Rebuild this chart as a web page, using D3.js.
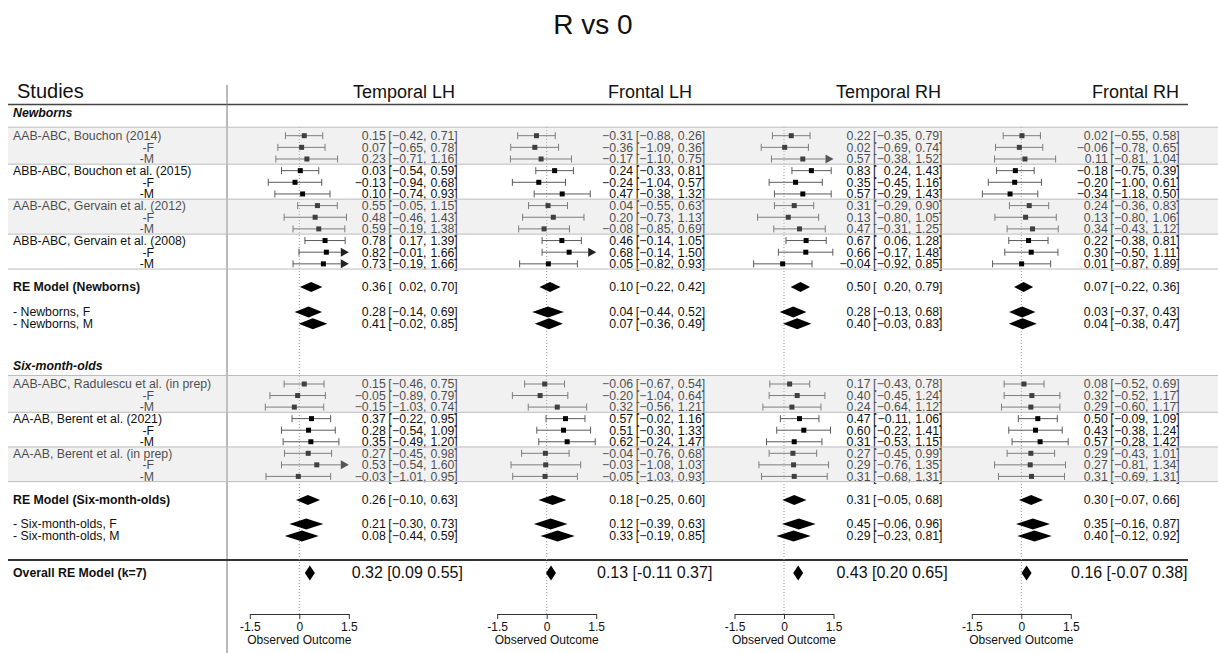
<!DOCTYPE html>
<html>
<head>
<meta charset="utf-8">
<script src="https://cdn.jsdelivr.net/npm/d3@7"></script>
<style>
  html, body { margin: 0; padding: 0; background: #fff; }
  svg { display: block; }
</style>
</head>
<body>
<svg id="chart" width="1218" height="653"></svg>
<script>
// ---- data -------------------------------------------------------------
const chartTitle = "R vs 0";
const regions = ["Temporal LH", "Frontal LH", "Temporal RH", "Frontal RH"];

const newbornStudies = [
  "AAB-ABC, Bouchon (2014)",
  "ABB-ABC, Bouchon et al. (2015)",
  "AAB-ABC, Gervain et al. (2012)",
  "ABB-ABC, Gervain et al. (2008)"
];
const sixMonthStudies = [
  "AAB-ABC, Radulescu et al. (in prep)",
  "AA-AB, Berent et al. (2021)",
  "AA-AB, Berent et al. (in prep)"
];
// each study contributes a pooled row followed by female and male rows
const rowSuffixes = ["", "-F", "-M"];

// [estimate, lower, upper] per row, one list per region
const newbornEffects = [
  [[0.15,-0.42,0.71],[0.07,-0.65,0.78],[0.23,-0.71,1.16],
   [0.03,-0.54,0.59],[-0.13,-0.94,0.68],[0.10,-0.74,0.93],
   [0.55,-0.05,1.15],[0.48,-0.46,1.43],[0.59,-0.19,1.38],
   [0.78,0.17,1.39],[0.82,-0.01,1.66],[0.73,-0.19,1.66]],
  [[-0.31,-0.88,0.26],[-0.36,-1.09,0.36],[-0.17,-1.10,0.75],
   [0.24,-0.33,0.81],[-0.24,-1.04,0.57],[0.47,-0.38,1.32],
   [0.04,-0.55,0.63],[0.20,-0.73,1.13],[-0.08,-0.85,0.69],
   [0.46,-0.14,1.05],[0.68,-0.14,1.50],[0.05,-0.82,0.93]],
  [[0.22,-0.35,0.79],[0.02,-0.69,0.74],[0.57,-0.38,1.52],
   [0.83,0.24,1.43],[0.35,-0.45,1.16],[0.57,-0.29,1.43],
   [0.31,-0.29,0.90],[0.13,-0.80,1.05],[0.47,-0.31,1.25],
   [0.67,0.06,1.28],[0.66,-0.17,1.48],[-0.04,-0.92,0.85]],
  [[0.02,-0.55,0.58],[-0.06,-0.78,0.65],[0.11,-0.81,1.04],
   [-0.18,-0.75,0.39],[-0.20,-1.00,0.61],[-0.34,-1.18,0.50],
   [0.24,-0.36,0.83],[0.13,-0.80,1.06],[0.34,-0.43,1.12],
   [0.22,-0.38,0.81],[0.30,-0.50,1.11],[0.01,-0.87,0.89]]
];
const sixMonthEffects = [
  [[0.15,-0.46,0.75],[-0.05,-0.89,0.79],[-0.15,-1.03,0.74],
   [0.37,-0.22,0.95],[0.28,-0.54,1.09],[0.35,-0.49,1.20],
   [0.27,-0.45,0.98],[0.53,-0.54,1.60],[-0.03,-1.01,0.95]],
  [[-0.06,-0.67,0.54],[-0.20,-1.04,0.64],[0.32,-0.56,1.21],
   [0.57,-0.02,1.16],[0.51,-0.30,1.33],[0.62,-0.24,1.47],
   [-0.04,-0.76,0.68],[-0.03,-1.08,1.03],[-0.05,-1.03,0.93]],
  [[0.17,-0.43,0.78],[0.40,-0.45,1.24],[0.24,-0.64,1.12],
   [0.47,-0.11,1.06],[0.60,-0.22,1.41],[0.31,-0.53,1.15],
   [0.27,-0.45,0.99],[0.29,-0.76,1.35],[0.31,-0.68,1.31]],
  [[0.08,-0.52,0.69],[0.32,-0.52,1.17],[0.29,-0.60,1.17],
   [0.50,-0.09,1.09],[0.43,-0.38,1.24],[0.57,-0.28,1.42],
   [0.29,-0.43,1.01],[0.27,-0.81,1.34],[0.31,-0.69,1.31]]
];

// random-effects summaries per region
const newbornRE  = [[0.36,0.02,0.70],[0.10,-0.22,0.42],[0.50,0.20,0.79],[0.07,-0.22,0.36]];
const newbornF   = [[0.28,-0.14,0.69],[0.04,-0.44,0.52],[0.28,-0.13,0.68],[0.03,-0.37,0.43]];
const newbornM   = [[0.41,-0.02,0.85],[0.07,-0.36,0.49],[0.40,-0.03,0.83],[0.04,-0.38,0.47]];
const sixMonthRE = [[0.26,-0.10,0.63],[0.18,-0.25,0.60],[0.31,-0.05,0.68],[0.30,-0.07,0.66]];
const sixMonthF  = [[0.21,-0.30,0.73],[0.12,-0.39,0.63],[0.45,-0.06,0.96],[0.35,-0.16,0.87]];
const sixMonthM  = [[0.08,-0.44,0.59],[0.33,-0.19,0.85],[0.29,-0.23,0.81],[0.40,-0.12,0.92]];
const overallRE  = [[0.32,0.09,0.55],[0.13,-0.11,0.37],[0.43,0.20,0.65],[0.16,-0.07,0.38]];

const axisTicks = [-1.5, 0, 1.5];
const axisTitle = "Observed Outcome";

// ---- layout -----------------------------------------------------------
const FONT = "'Liberation Sans', Arial, Helvetica, sans-serif";
const svg = d3.select("#chart").style("font-family", FONT);

const zeroX = [299.3, 546.7, 784, 1021.3];
const halfSpan = 49.5;            // pixels from 0 to 1.5
const labelOffset = 158.5;        // right edge of the value column from x(0)
const titleRight = [455, 692, 941, 1179];
const xLimit = 1.49;

const ROW = 11.65;
const nbTop = 135.7;
const nbRowsY = d3.range(newbornStudies.length * 3).map(i => nbTop + i * ROW);
const nbHeaderY = nbTop - 23.5;
const nbREY = 287, nbFY = 312, nbMY = 323.7;
const smHeaderY = 366;
const smTop = 384;
const smRowsY = d3.range(sixMonthStudies.length * 3).map(i => smTop + i * 11.55);
const smREY = 500, smFY = 524, smMY = 536;
const overallLineY = 560, overallY = 573;
const axisY = 614;
const leftX = 8, rightX = 1188;
const labelSize = 12.3;

const fmt = v => v.toFixed(2).replace("-", "\u2212");
const fmtPlain = v => v.toFixed(2);

// ---- title & headers --------------------------------------------------
svg.append("text").attr("x", 593).attr("y", 34).attr("text-anchor", "middle")
  .attr("font-size", 28).attr("fill", "#111").text(chartTitle);

svg.append("text").attr("x", 17).attr("y", 98).attr("font-size", 20)
  .attr("fill", "#111").text("Studies");

regions.forEach((r, p) => {
  svg.append("text").attr("x", titleRight[p]).attr("y", 98)
    .attr("text-anchor", "end").attr("font-size", 18).attr("fill", "#111").text(r);
});

svg.append("line").attr("x1", leftX).attr("x2", rightX)
  .attr("y1", 104.5).attr("y2", 104.5).attr("stroke", "#444").attr("stroke-width", 1.3);

svg.append("line").attr("x1", 227).attr("x2", 227).attr("y1", 85).attr("y2", 653)
  .attr("stroke", "#777").attr("stroke-width", 1);

svg.append("line").attr("x1", leftX).attr("x2", rightX)
  .attr("y1", overallLineY).attr("y2", overallLineY).attr("stroke", "#333").attr("stroke-width", 2);

// ---- study column -----------------------------------------------------
const labelG = svg.append("g").attr("font-size", labelSize).attr("fill", "#111");

function groupHeader(text, y) {
  labelG.append("text").attr("x", 13).attr("y", y).attr("dy", "0.35em")
    .attr("font-weight", "bold").attr("font-style", "italic").text(text);
}
function studyLabels(studies, ys) {
  studies.forEach((s, i) => {
    rowSuffixes.forEach((suf, k) => {
      const y = ys[i * 3 + k];
      if (k === 0) {
        labelG.append("text").attr("x", 13).attr("y", y).attr("dy", "0.35em").text(s);
      } else {
        labelG.append("text").attr("x", 154).attr("y", y).attr("dy", "0.35em")
          .attr("text-anchor", "end").text(suf);
      }
    });
  });
}
groupHeader("Newborns", nbHeaderY);
studyLabels(newbornStudies, nbRowsY);
groupHeader("Six-month-olds", smHeaderY);
studyLabels(sixMonthStudies, smRowsY);

const summaryLabels = [
  ["RE Model (Newborns)", nbREY, true],
  ["- Newborns, F", nbFY, false],
  ["- Newborns, M", nbMY, false],
  ["RE Model (Six-month-olds)", smREY, true],
  ["- Six-month-olds, F", smFY, false],
  ["- Six-month-olds, M", smMY, false],
  ["Overall RE Model (k=7)", overallY, true]
];
summaryLabels.forEach(([t, y, bold]) => {
  labelG.append("text").attr("x", 13).attr("y", y).attr("dy", "0.35em")
    .attr("font-weight", bold ? "bold" : "normal").text(t);
});

// ---- panels -----------------------------------------------------------
function valueLabel(g, R, y, d) {
  const t = g.append("g").attr("font-size", labelSize).attr("fill", "#111");
  t.append("text").attr("x", R - 72).attr("y", y).attr("dy", "0.35em")
    .attr("text-anchor", "end").text(fmt(d[0]));
  t.append("text").attr("x", R - 69.5).attr("y", y).attr("dy", "0.35em").text("[");
  t.append("text").attr("x", R - 31.3).attr("y", y).attr("dy", "0.35em")
    .attr("text-anchor", "end").text(fmt(d[1]) + ",");
  t.append("text").attr("x", R).attr("y", y).attr("dy", "0.35em")
    .attr("text-anchor", "end").text(fmt(d[2]) + "]");
}

regions.forEach((r, p) => {
  const x = d3.scaleLinear().domain([-1.5, 1.5])
    .range([zeroX[p] - halfSpan, zeroX[p] + halfSpan]);
  const R = zeroX[p] + labelOffset;
  const g = svg.append("g");

  // reference line at zero
  g.append("line").attr("x1", x(0)).attr("x2", x(0)).attr("y1", 127).attr("y2", axisY)
    .attr("stroke", "#9a9a9a").attr("stroke-width", 1).attr("stroke-dasharray", "1,2");

  function studyRow(d, y) {
    const [est, lo, hi] = d;
    const clipped = hi > xLimit;
    const xr = clipped ? x(1.5) - 8 : x(hi);
    g.append("line").attr("x1", x(lo)).attr("x2", xr).attr("y1", y).attr("y2", y)
      .attr("stroke", "#5a5a5a").attr("stroke-width", 1);
    g.append("line").attr("x1", x(lo)).attr("x2", x(lo)).attr("y1", y - 3.5).attr("y2", y + 3.5)
      .attr("stroke", "#5a5a5a").attr("stroke-width", 1);
    if (clipped) {
      g.append("polygon")
        .attr("points", [[x(1.5) - 8, y - 4.5], [x(1.5), y], [x(1.5) - 8, y + 4.5]].join(" "))
        .attr("fill", "#222");
    } else {
      g.append("line").attr("x1", x(hi)).attr("x2", x(hi)).attr("y1", y - 3.5).attr("y2", y + 3.5)
        .attr("stroke", "#5a5a5a").attr("stroke-width", 1);
    }
    g.append("rect").attr("x", x(est) - 2.5).attr("y", y - 2.5)
      .attr("width", 5).attr("height", 5).attr("fill", "#000");
    valueLabel(g, R, y, d);
  }

  function summaryRow(d, y, h) {
    const [est, lo, hi] = d;
    g.append("polygon")
      .attr("points", [[x(lo), y], [x(est), y - h], [x(hi), y], [x(est), y + h]].join(" "))
      .attr("fill", "#000");
    valueLabel(g, R, y, d);
  }

  newbornEffects[p].forEach((d, i) => studyRow(d, nbRowsY[i]));
  sixMonthEffects[p].forEach((d, i) => studyRow(d, smRowsY[i]));
  summaryRow(newbornRE[p], nbREY, 5);
  summaryRow(newbornF[p], nbFY, 5.5);
  summaryRow(newbornM[p], nbMY, 5.5);
  summaryRow(sixMonthRE[p], smREY, 5);
  summaryRow(sixMonthF[p], smFY, 5.5);
  summaryRow(sixMonthM[p], smMY, 5.5);

  // overall pooled estimate
  const o = overallRE[p];
  g.append("polygon")
    .attr("points", [[x(o[0]) - 5, overallY], [x(o[0]), overallY - 7.5],
                     [x(o[0]) + 5, overallY], [x(o[0]), overallY + 7.5]].join(" "))
    .attr("fill", "#000");
  g.append("text").attr("x", zeroX[p] + 108).attr("y", overallY - 1).attr("dy", "0.35em")
    .attr("text-anchor", "middle").attr("font-size", 16).attr("fill", "#111")
    .text(`${fmtPlain(o[0])} [${fmtPlain(o[1])} ${fmtPlain(o[2])}]`);

  // axis
  const ax = d3.axisBottom(x).tickValues(axisTicks).tickSize(5).tickSizeOuter(0)
    .tickPadding(3).tickFormat(v => v === 0 ? "0" : String(v));
  const axG = svg.append("g").attr("transform", `translate(0,${axisY})`).call(ax);
  axG.select(".domain").attr("stroke", "#333");
  axG.selectAll(".tick line").attr("stroke", "#333");
  axG.selectAll(".tick text").attr("font-size", 12).attr("font-family", FONT).attr("fill", "#111");
  svg.append("text").attr("x", x(0)).attr("y", 644).attr("text-anchor", "middle")
    .attr("font-size", 12).attr("fill", "#111").text(axisTitle);
});

// ---- study bands and separators (translucent shading over the rows) ---
function bands(ys, nStudies) {
  const tops = [], bottoms = [];
  for (let i = 0; i < nStudies; i++) {
    tops.push(i === 0 ? ys[0] - 8.5 : ys[i * 3 - 1] + 5.2);
    bottoms.push(ys[i * 3 + 2] + 5.2);
  }
  tops.forEach((t, i) => {
    if (i % 2 === 0) {
      svg.append("rect").attr("x", leftX).attr("y", t).attr("width", 1218 - leftX)
        .attr("height", bottoms[i] - t).attr("fill", "#cfcfcf").attr("opacity", 0.3);
    }
  });
  [tops[0], ...bottoms].forEach(y => {
    svg.append("line").attr("x1", leftX).attr("x2", 1218).attr("y1", y).attr("y2", y)
      .attr("stroke", "#bdbdbd").attr("stroke-width", 1);
  });
}
bands(nbRowsY, newbornStudies.length);
bands(smRowsY, sixMonthStudies.length);
</script>
</body>
</html>
